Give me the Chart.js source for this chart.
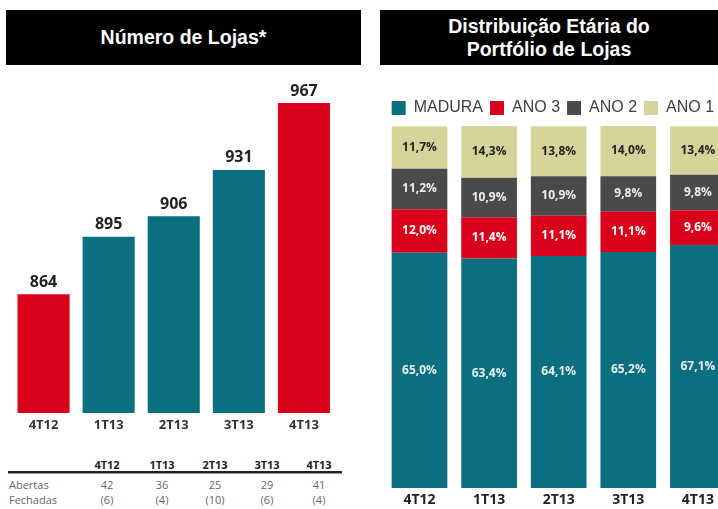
<!DOCTYPE html>
<html>
<head>
<meta charset="utf-8">
<script src="https://cdn.jsdelivr.net/npm/chart.js"></script>
<style>
  html, body { margin: 0; padding: 0; background: #fff; overflow: hidden; width: 718px; height: 509px; }
  body { position: relative; font-family: "Liberation Sans", Arial, sans-serif; }
  .hdr { position: absolute; top: 10px; height: 55px; background: #000; color: #fff; font-weight: bold;
         font-size: 19.5px; display: flex; align-items: center; justify-content: center; text-align: center; line-height: 23px; }
  canvas { position: absolute; }
  .tb { position: absolute; font-family: "Open Sans", sans-serif; font-size: 11px; line-height: 15px; color: #666; }
  .tb.h { font-weight: bold; color: #222; }
  .rule { position: absolute; left: 8px; top: 471px; width: 334px; height: 2px; background: #222; border-bottom: 1px solid #999; }
</style>
</head>
<body>
<div class="hdr" style="left:6px;width:355px;">Número de Lojas*</div>
<div class="hdr" style="left:380px;width:338px;">Distribuição Etária do<br>Portfólio de Lojas</div>

<canvas id="lojas" width="350" height="370" style="left:0;top:70px;"></canvas>
<canvas id="idade" width="360" height="416" style="left:380px;top:93px;"></canvas>
<div class="rule"></div>
<div id="tabela"></div>

<script>
// numero de lojas
const trimestres = ['4T12', '1T13', '2T13', '3T13', '4T13'];
const lojas = [864, 895, 906, 931, 967];
const corLojas = ['#d8001a', '#0b6f80', '#0b6f80', '#0b6f80', '#d8001a'];

// aberturas / fechamentos
const abertas = ['42', '36', '25', '29', '41'];
const fechadas = ['(6)', '(4)', '(10)', '(6)', '(4)'];

// distribuicao etaria (%)
const madura = [65.0, 63.4, 64.1, 65.2, 67.1];
const ano3 = [12.0, 11.4, 11.1, 11.1, 9.6];
const ano2 = [11.2, 10.9, 10.9, 9.8, 9.8];
const ano1 = [11.7, 14.3, 13.8, 14.0, 13.4];

const TEAL = '#0b6f80', RED = '#d8001a', GRAY = '#4b4a4a', BEIGE = '#d7d49b';

// tabela abaixo do grafico
const colX = [107, 162, 215, 267, 319];
let html = '';
trimestres.forEach((t, i) => {
  const l = 'left:' + (colX[i] - 20) + 'px;width:40px;text-align:center;';
  html += '<div class="tb h" style="' + l + 'top:457px;">' + t + '</div>';
  html += '<div class="tb" style="' + l + 'top:477px;">' + abertas[i] + '</div>';
  html += '<div class="tb" style="' + l + 'top:492px;">' + fechadas[i] + '</div>';
});
html += '<div class="tb" style="left:9px;top:477px;">Abertas</div>';
html += '<div class="tb" style="left:9px;top:492px;">Fechadas</div>';
document.getElementById('tabela').innerHTML = html;

// rotulos dos valores
const labelPlugin = {
  id: 'labels',
  afterDatasetsDraw(chart, args, opts) {
    const ctx = chart.ctx;
    ctx.save();
    ctx.textAlign = 'center';
    chart.data.datasets.forEach((ds, di) => {
      const meta = chart.getDatasetMeta(di);
      if (meta.hidden) return;
      meta.data.forEach((bar, i) => {
        const v = ds.data[i];
        if (opts.stacked) {
          ctx.font = 'bold 12px "Open Sans", sans-serif';
          ctx.fillStyle = ds.labelColor || '#fff';
          ctx.textBaseline = 'middle';
          ctx.fillText(v.toFixed(1).replace('.', ',') + '%', bar.x, (bar.y + bar.base) / 2);
        } else {
          ctx.font = 'bold 16px "Open Sans", sans-serif';
          ctx.fillStyle = '#222';
          ctx.textBaseline = 'bottom';
          ctx.fillText(String(v), bar.x, bar.y - 4);
        }
      });
    });
    ctx.restore();
  }
};

new Chart(document.getElementById('lojas'), {
  type: 'bar',
  data: {
    labels: trimestres,
    datasets: [{ data: lojas, backgroundColor: corLojas, barPercentage: 0.8, categoryPercentage: 1 }]
  },
  options: {
    responsive: false,
    animation: false,
    layout: { padding: { top: 9, left: 11, right: 13.5, bottom: 0 } },
    plugins: { legend: { display: false }, tooltip: { enabled: false }, labels: { stacked: false } },
    scales: {
      x: {
        grid: { display: false, drawTicks: false },
        border: { display: false },
        ticks: { padding: 4, color: '#333', font: { family: '"Open Sans", sans-serif', size: 13, weight: 'bold' } },
        afterFit: s => { s.height = 27; }
      },
      y: { display: false, min: 800, max: 980 }
    }
  },
  plugins: [labelPlugin]
});

new Chart(document.getElementById('idade'), {
  type: 'bar',
  data: {
    labels: trimestres,
    datasets: [
      { label: 'MADURA', data: madura, backgroundColor: TEAL, labelColor: '#e8f0f2' },
      { label: 'ANO 3', data: ano3, backgroundColor: RED, labelColor: '#fff' },
      { label: 'ANO 2', data: ano2, backgroundColor: GRAY, labelColor: '#eee' },
      { label: 'ANO 1', data: ano1, backgroundColor: BEIGE, labelColor: '#222' }
    ]
  },
  options: {
    responsive: false,
    animation: false,
    datasets: { bar: { barPercentage: 0.8, categoryPercentage: 1 } },
    layout: { padding: { top: 0, left: 4.7, right: 7.3, bottom: 0 } },
    plugins: {
      tooltip: { enabled: false },
      labels: { stacked: true },
      legend: {
        position: 'top',
        align: 'start',
        labels: {
          boxWidth: 14, boxHeight: 14, padding: 7, color: '#404040',
          font: { family: '"Liberation Sans", sans-serif', size: 16, lineHeight: 1.4 }
        }
      }
    },
    scales: {
      x: {
        stacked: true,
        grid: { display: false, drawTicks: false },
        border: { display: false },
        ticks: { padding: 4, color: '#222', font: { family: '"Open Sans", sans-serif', size: 14, weight: 'bold' } },
        afterFit: s => { s.height = 21; }
      },
      y: { stacked: true, display: false, min: 0, max: 100 }
    }
  },
  plugins: [labelPlugin]
});
</script>
</body>
</html>
